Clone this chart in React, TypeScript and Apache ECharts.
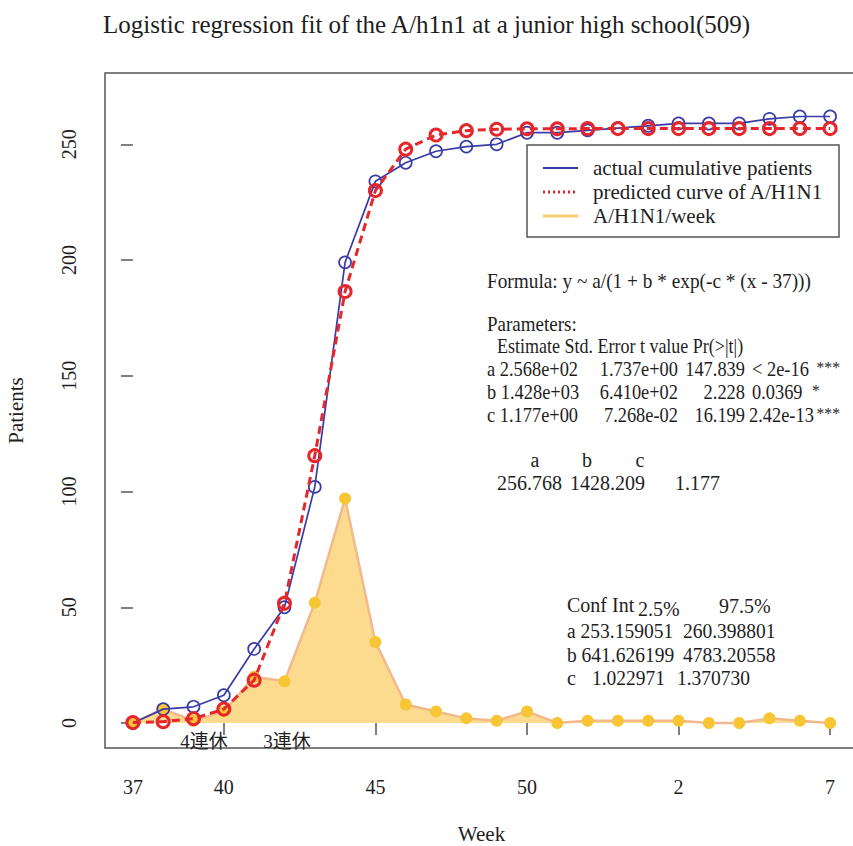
import React, { useEffect, useRef } from "react";
import * as echarts from "echarts";

// Week labels (index 0 = week 37 of 2009 ... index 23 = week 7 of 2010)
const weekLabels = [
  "37", "38", "39", "40", "41", "42", "43", "44", "45", "46", "47", "48",
  "49", "50", "51", "52", "53", "1", "2", "3", "4", "5", "6", "7",
];
const actualCumulative = [
  0, 6, 7, 12, 32, 50, 102, 199, 234, 242, 247, 249, 250, 255, 255, 256, 257,
  258, 259, 259, 259, 261, 262, 262,
];
const predictedCurve = [
  0.18, 0.58, 1.88, 6.0, 18.5, 51.7, 115.5, 186.4, 230.0, 247.9, 254.0, 255.9,
  256.5, 256.7, 256.7, 256.8, 256.8, 256.8, 256.8, 256.8, 256.8, 256.8, 256.8,
  256.8,
];
const weeklyCases = [
  0, 6, 1, 5, 20, 18, 52, 97, 35, 8, 5, 2, 1, 5, 0, 1, 1, 1, 1, 0, 0, 2, 1, 0,
];
const xLabelIdx = [0, 3, 8, 13, 18, 23];
const xTickIdx = [3, 8, 13, 18, 23];
const yTickValues = [0, 50, 100, 150, 200, 250];

const legendNames = [
  "actual cumulative patients",
  "predicted curve of A/H1N1",
  "A/H1N1/week",
];

const paramHeader = "Estimate Std. Error t value Pr(>|t|)";
const paramRows = [
  ["a 2.568e+02", "1.737e+00", "147.839", "< 2e-16", "***"],
  ["b 1.428e+03", "6.410e+02", "2.228", "0.0369", "*"],
  ["c 1.177e+00", "7.268e-02", "16.199", "2.42e-13", "***"],
];
const coefNames = ["a", "b", "c"];
const coefValues = ["256.768", "1428.209", "1.177"];
const confRows = [
  ["a 253.159051", "260.398801"],
  ["b 641.626199", "4783.20558"],
  ["c", "1.022971", "1.370730"],
];

const BLUE = "#3a3ca6";
const RED = "#e5272b";
const YPT = "#f8c534";
const YFILL = "#fcda8e";
const YLINE = "#f2b98c";
const SERIF = '"Liberation Serif", "Times New Roman", serif';
const CJK = '"Liberation Serif", "Noto Sans CJK JP", serif';
const TXT = "#1e1e1e";

export default function App() {
  const ref = useRef<HTMLDivElement>(null);
  useEffect(() => {
    document.body.style.margin = "0";
    const chart = echarts.init(ref.current!, null, { renderer: "svg" });
    const t = (text: string, x: number, y: number, extra: any = {}, sx = 1) => ({
      type: "text",
      x,
      y,
      scaleX: sx,
      z: 100,
      style: {
        text,
        fontSize: 20,
        fontFamily: SERIF,
        fill: TXT,
        verticalAlign: "middle",
        align: "left",
        ...extra,
      },
    });
    const graphics: any[] = [];
    // legend box
    graphics.push({
      type: "rect",
      z: 90,
      shape: { x: 527, y: 145, width: 312, height: 92 },
      style: { fill: "#fff", stroke: "#555", lineWidth: 1.5 },
    });
    const legY = [168, 192, 216];
    graphics.push({
      type: "line",
      z: 95,
      shape: { x1: 543, y1: legY[0], x2: 578, y2: legY[0] },
      style: { stroke: BLUE, lineWidth: 2 },
    });
    graphics.push({
      type: "line",
      z: 95,
      shape: { x1: 543, y1: legY[1], x2: 578, y2: legY[1] },
      style: { stroke: RED, lineWidth: 3, lineDash: [2, 3] },
    });
    graphics.push({
      type: "line",
      z: 95,
      shape: { x1: 543, y1: legY[2], x2: 578, y2: legY[2] },
      style: { stroke: "#f8cd6c", lineWidth: 3 },
    });
    legendNames.forEach((n, i) => graphics.push(t(n, 593, legY[i], { fontSize: 21 })));
    // formula text
    graphics.push(t("Formula: y ~ a/(1 + b * exp(-c * (x - 37)))", 487, 281, {}, 0.965));
    graphics.push(t("Parameters:", 487, 324, {}, 0.95));
    const PS = 0.92;
    graphics.push(t(paramHeader, 497, 346, {}, 0.9));
    paramRows.forEach((r, i) => {
      const y = 369 + i * 23;
      graphics.push(t(r[0], 487, y, {}, PS));
      graphics.push(t(r[1], 678, y, { align: "right" }, PS));
      graphics.push(t(r[2], 745, y, { align: "right" }, PS));
      graphics.push(t(r[3], i === 2 ? 749 : 752, y, {}, PS));
      if (r[4] === "*") {
        graphics.push(t(r[4], 812, y - 2, { fontSize: 17 }, PS));
      } else {
        graphics.push(t(r[4], 840, y - 2, { align: "right", fontSize: 17 }, PS));
      }
    });
    const coefX = [535, 587, 640];
    coefNames.forEach((n, i) => graphics.push(t(n, coefX[i], 460, { align: "center" })));
    graphics.push(t(coefValues[0], 497, 483));
    graphics.push(t(coefValues[1], 570, 483));
    graphics.push(t(coefValues[2], 720, 483, { align: "right" }));
    // conf int
    graphics.push(t("Conf Int", 567, 605));
    graphics.push(t("2.5%", 638, 609));
    graphics.push(t("97.5%", 719, 606));
    confRows.forEach((r, i) => {
      const y = 631 + i * 23.5;
      if (r.length === 2) {
        graphics.push(t(r[0], 567, y, {}, 0.975));
        graphics.push(t(r[1], 683, y, {}, 0.975));
      } else {
        graphics.push(t(r[0], 567, y));
        graphics.push(t(r[1], 592, y, {}, 0.975));
        graphics.push(t(r[2], 677, y, {}, 0.975));
      }
    });
    // holiday annotations
    graphics.push(t("4連休", 204, 741, { align: "center", fontFamily: CJK, fontSize: 19 }));
    graphics.push(t("3連休", 287, 741, { align: "center", fontFamily: CJK, fontSize: 19 }));

    const option: any = {
      animation: false,
      backgroundColor: "#fff",
      title: {
        text: "Logistic regression fit of the A/h1n1 at a junior high school(509)",
        left: "center",
        top: 7,
        textStyle: {
          fontFamily: SERIF,
          fontWeight: "normal",
          fontSize: 25,
          color: TXT,
        },
      },
      grid: {
        left: 105,
        top: 73,
        width: 753,
        height: 675,
        show: true,
        borderColor: "#555",
        borderWidth: 1.5,
        backgroundColor: "#fff",
        outerBoundsMode: "none",
        containLabel: false,
      },
      xAxis: {
        type: "value",
        min: -0.92,
        max: 23.92,
        name: "Week",
        nameLocation: "middle",
        nameGap: 75,
        nameTextStyle: { fontFamily: SERIF, fontSize: 21, color: TXT },
        axisLine: { show: false },
        splitLine: { show: false },
        axisTick: {
          show: true,
          length: 12,
          customValues: xTickIdx,
          lineStyle: { color: "#555", width: 1.5 },
        },
        axisLabel: {
          customValues: xLabelIdx,
          formatter: (v: number) => weekLabels[Math.round(v)] ?? "",
          fontFamily: SERIF,
          fontSize: 20,
          color: TXT,
          margin: 29,
        },
      },
      yAxis: {
        type: "value",
        min: -10.8,
        max: 280.8,
        name: "Patients",
        nameLocation: "middle",
        nameGap: 79,
        nameRotate: 90,
        nameTextStyle: { fontFamily: SERIF, fontSize: 21, color: TXT },
        axisLine: { show: false },
        splitLine: { show: false },
        axisTick: {
          show: true,
          length: 12,
          customValues: yTickValues,
          lineStyle: { color: "#555", width: 1.5 },
        },
        axisLabel: {
          customValues: yTickValues,
          rotate: 90,
          fontFamily: SERIF,
          fontSize: 20,
          color: TXT,
          margin: 26,
        },
      },
      series: [
        {
          name: legendNames[2],
          type: "line",
          z: 2,
          data: weeklyCases.map((v, i) => [i, v]),
          symbol: "circle",
          symbolSize: 12,
          itemStyle: { color: YPT },
          lineStyle: { color: YLINE, width: 2.5 },
          areaStyle: { color: YFILL, opacity: 1, origin: 0 },
        },
        {
          name: legendNames[0],
          type: "line",
          z: 3,
          data: actualCumulative.map((v, i) => [i, v]),
          symbol: "circle",
          symbolSize: 12,
          itemStyle: { color: "rgba(0,0,0,0)", borderColor: BLUE, borderWidth: 1.7 },
          lineStyle: { color: BLUE, width: 1.7 },
        },
        {
          name: legendNames[1],
          type: "line",
          z: 4,
          data: predictedCurve.map((v, i) => [i, v]),
          symbol: "circle",
          symbolSize: 12,
          itemStyle: { color: "rgba(0,0,0,0)", borderColor: RED, borderWidth: 3 },
          lineStyle: { color: RED, width: 3, type: [8, 5] },
        },
      ],
      graphic: graphics,
    };
    chart.setOption(option);
    return () => chart.dispose();
  }, []);
  return (
    <div
      ref={ref}
      style={{ position: "absolute", left: 0, top: 0, width: 853, height: 846 }}
    />
  );
}
